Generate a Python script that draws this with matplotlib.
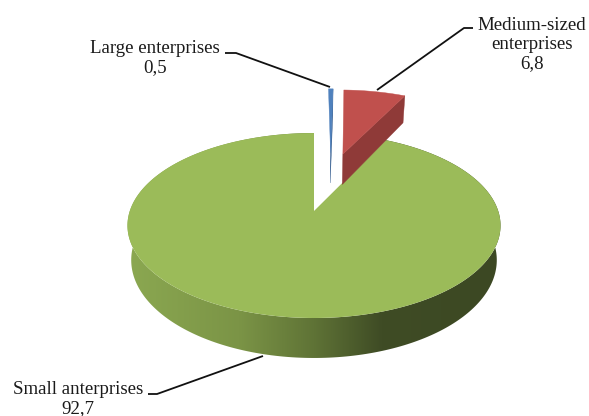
import numpy as np
import matplotlib
matplotlib.use('Agg')
import matplotlib.pyplot as plt
from matplotlib.patches import Polygon
from matplotlib.colors import LinearSegmentedColormap

plt.rcParams['font.family'] = ['Liberation Serif', 'DejaVu Serif']

# Slices in drawing order, clockwise from 12 o'clock
labels = ['Large enterprises', 'Medium-sized\nenterprises', 'Small anterprises']
values = [0.5, 6.8, 92.7]
top_colors = ['#4f81bd', '#c0504d', '#9bbb59']
wall_colors = ['#365f91', '#8f3a38', None]
# Slice apex offset on the unit disc (u right, v back)
offsets = [(0.10, 0.72), (0.174, 0.70), (0.0, 0.0)]

label_pos = [(155, 58), (532, 44.5), (78, 399)]
leaders = [
    [(225, 53), (236, 53), (330, 87)],
    [(473, 28), (464, 28), (377, 90)],
    [(148, 394), (157, 394), (263, 356)],
]

# Perspective of the disc, in pixels
cx, cy = 314, 211
rx, ry = 184.2, 90.2
persp = 0.157
depth = 33.7
bottom_scale = 0.98

wall_stops = [(0.0, '#8ba851'), (0.3, '#7b9446'), (0.5, '#5f7336'), (0.68, '#3f4c25'), (1.0, '#3c4823')]


def project(u, v, low=False):
    w = 1 + persp * v
    x = rx * u / w
    y = -ry * v / w
    if low:
        x = x * bottom_scale
        y = y + depth / w
    return cx + x, cy + y


def rim(start, end, off=(0, 0), low=False):
    t = np.radians(np.linspace(start, end, 300))
    return project(off[0] + np.sin(t), off[1] + np.cos(t), low)


fig = plt.figure(figsize=(5.89, 4.16), dpi=100)
ax = fig.add_axes([0, 0, 1, 1])
ax.set_xlim(0, 589)
ax.set_ylim(416, 0)
ax.axis('off')

angles = np.cumsum([0] + values) * 3.6

# Small enterprises: outer wall with shading, then top face
gx0, gy0 = rim(angles[2], angles[3], offsets[2])
gx1, gy1 = rim(angles[2], angles[3], offsets[2], low=True)
wall = Polygon(np.column_stack([np.r_[gx0, gx1[::-1]], np.r_[gy0, gy1[::-1]]]),
               closed=True, fc='none', ec='none')
ax.add_patch(wall)
cmap = LinearSegmentedColormap.from_list('wall', wall_stops)
shade = ax.imshow(np.linspace(0, 1, 256)[None, :], cmap=cmap, aspect='auto',
                  extent=[gx0.min(), gx0.max(), 416, 0], zorder=1)
shade.set_clip_path(wall)
ax.set_xlim(0, 589)
ax.set_ylim(416, 0)

ax0, ay0 = project(*offsets[2])
ax.add_patch(Polygon(np.column_stack([np.r_[ax0, gx0], np.r_[ay0, gy0]]),
                     closed=True, fc=top_colors[2], ec='none', zorder=2))

# Exploded slices: inner wall below the clockwise edge, then top face
for i in [0, 1]:
    off = offsets[i]
    tx, ty = rim(angles[i], angles[i + 1], off)
    ex, ey = project(*off)
    lx, ly = project(*off, low=True)
    ox, oy = rim(angles[i + 1], angles[i + 1], off, low=True)
    ax.add_patch(Polygon([(ex, ey), (tx[-1], ty[-1]), (ox[-1], oy[-1]), (lx, ly)],
                         closed=True, fc=wall_colors[i], ec=wall_colors[i], lw=0.3, zorder=3))
    ax.add_patch(Polygon(np.column_stack([np.r_[ex, tx], np.r_[ey, ty]]),
                         closed=True, fc=top_colors[i], ec=top_colors[i], lw=0.3, zorder=4))

# Leader lines and labels
for pts in leaders:
    xs, ys = zip(*pts)
    ax.plot(xs, ys, color='#111111', lw=1.3, solid_capstyle='butt', zorder=5)

for name, val, pos in zip(labels, values, label_pos):
    text = name + '\n' + str(val).replace('.', ',')
    ax.text(pos[0], pos[1], text, ha='center', va='center', fontsize=13.6,
            color='#1a1a1a', linespacing=1.17, zorder=6, clip_on=False)

fig.savefig('out.png', dpi=100)
